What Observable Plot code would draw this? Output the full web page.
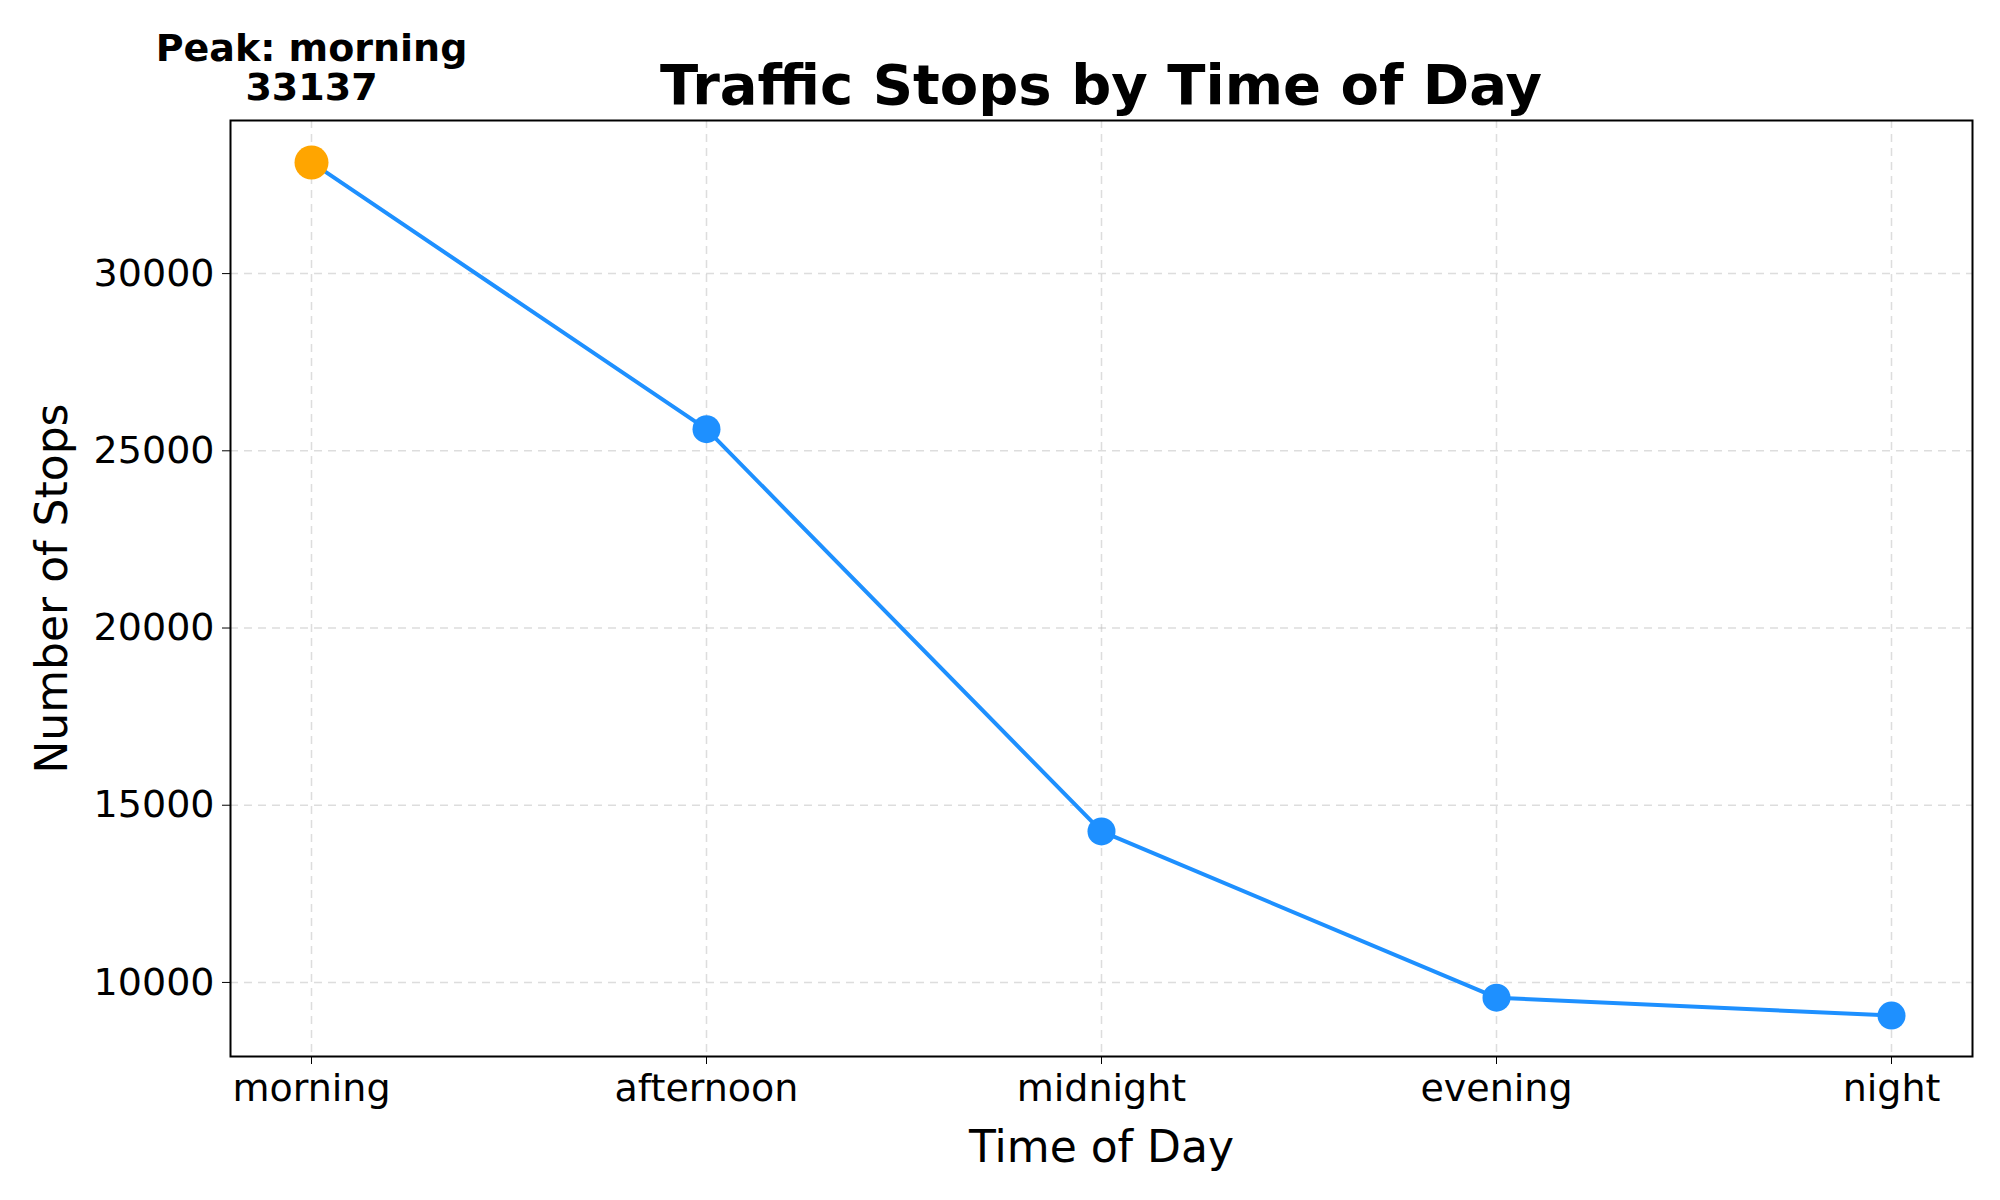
<!DOCTYPE html>
<html>
<head>
<meta charset="utf-8">
<script src="https://cdn.jsdelivr.net/npm/d3@7"></script>
<script src="https://cdn.jsdelivr.net/npm/@observablehq/plot@0.6"></script>
<style>
  body { margin: 0; background: white; font-family: "DejaVu Sans", sans-serif; }
  #wrap { position: relative; width: 2000px; height: 1200px; }
  #title { position: absolute; left: 230px; width: 1742px; top: 52px; text-align: center;
           font-size: 56px; font-weight: bold; color: black; }
</style>
</head>
<body>
<div id="wrap">
  <div id="title">Traffic Stops by Time of Day</div>
  <div id="chart"></div>
</div>
<script>
  let times = ["morning", "afternoon", "midnight", "evening", "night"]
  let stops = [33137, 25610, 14260, 9570, 9065]
  let yTicks = [10000, 15000, 20000, 25000, 30000]

  let data = times.map((t, i) => ({time: t, stops: stops[i]}))
  let peak = data.filter(d => d.stops == d3.max(stops))
  let rest = data.filter(d => d.stops != d3.max(stops))

  let chart = Plot.plot({
    width: 2000,
    height: 1200,
    marginLeft: 230,
    marginRight: 28,
    marginTop: 120,
    marginBottom: 144,
    x: {type: "point", domain: times, padding: 0.2, label: "Time of Day", labelAnchor: "center", labelOffset: 105, tickSize: 8, tickPadding: 10},
    y: {domain: [7910, 34320], ticks: yTicks, tickFormat: d => String(d), label: "Number of Stops", labelArrow: "none", labelAnchor: "center", labelOffset: 195, tickSize: 8, tickPadding: 8},
    style: {fontFamily: "DejaVu Sans, sans-serif", fontSize: "38px", color: "black", background: "white", overflow: "visible"},
    marks: [
      Plot.gridX(times, {stroke: "#bbb", strokeOpacity: 0.5, strokeDasharray: "8,6", strokeWidth: 1.5}),
      Plot.gridY(yTicks, {stroke: "#bbb", strokeOpacity: 0.5, strokeDasharray: "8,6", strokeWidth: 1.5}),
      Plot.line(data, {x: "time", y: "stops", stroke: "#1e90ff", strokeWidth: 4}),
      Plot.dot(rest, {x: "time", y: "stops", r: 14, fill: "#1e90ff"}),
      Plot.dot(peak, {x: "time", y: "stops", r: 17, fill: "orange"}),
      Plot.text(peak, {x: "time", y: "stops", text: d => `Peak: ${d.time}\n${d.stops}`, lineAnchor: "bottom", dy: -62, fontWeight: "bold", fontSize: 38, lineHeight: 1.05, clip: false}),
      Plot.frame({stroke: "black", strokeWidth: 2})
    ]
  })
  d3.select("#chart").append(() => chart)
  d3.select(chart).selectAll("[aria-label='x-axis label'] text, [aria-label='y-axis label'] text").style("font-size", "44px")
</script>
</body>
</html>
